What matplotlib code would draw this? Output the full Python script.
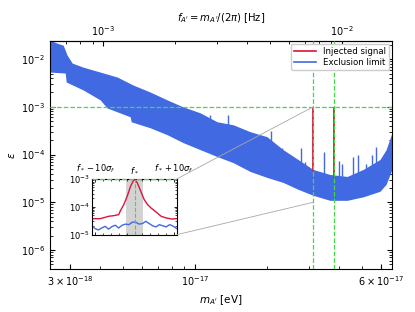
"""
Limite de exclusão do fóton escuro com sinal injetado.
"""
import matplotlib
import matplotlib.pyplot as plt
import numpy as np
from matplotlib.lines import Line2D
from matplotlib.patches import ConnectionPatch
from matplotlib.ticker import MultipleLocator, NullFormatter

matplotlib.use('Agg')

COLORS = {
    'blue': '#4169E1',
    'red': '#DC143C',
    'green': '#45D845',
    'gray': '#A8A8A8',
}

# Conversão eV -> Hz (h em eV*s)
H_EV = 4.135667e-15

# Envelope da curva de exclusão (massa em eV, epsilon)
mass_up = [2.47e-18, 2.646e-18, 2.805e-18, 2.914e-18, 3.06e-18, 3.40e-18, 4.005e-18,
           4.72e-18, 5.50e-18, 6.48e-18, 7.64e-18, 8.91e-18,
           1.05e-17, 1.236e-17, 1.442e-17, 1.70e-17, 2.00e-17, 2.335e-17, 2.70e-17,
           3.12e-17, 3.67e-17, 4.33e-17, 5.05e-17, 5.94e-17, 6.30e-17, 6.67e-17]
eps_up = [2.5e-2, 2.16e-2, 1.96e-2, 1.21e-2, 8.25e-3, 6.8e-3, 5.36e-3,
          4.22e-3, 2.87e-3, 2.05e-3, 1.40e-3, 1.0e-3,
          7.5e-4, 4.87e-4, 4.22e-4, 3.02e-4, 2.37e-4, 1.27e-4, 7.87e-5,
          4.87e-5, 3.83e-5, 3.48e-5, 4.87e-5, 7.87e-5, 1.26e-4, 2.88e-4]

mass_low = [2.47e-18, 2.86e-18, 2.887e-18, 3.40e-18, 4.005e-18, 4.28e-18, 4.72e-18,
            5.35e-18, 5.40e-18, 6.48e-18, 7.64e-18, 8.91e-18, 1.05e-17, 1.236e-17,
            1.442e-17, 1.70e-17, 2.00e-17, 2.335e-17, 2.70e-17, 3.12e-17, 3.67e-17,
            4.33e-17, 5.05e-17, 5.94e-17, 6.30e-17, 6.67e-17]
eps_low = [5.36e-3, 5.11e-3, 3.32e-3, 2.26e-3, 1.40e-3, 9.5e-4, 7.87e-4,
           6.19e-4, 4.87e-4, 3.65e-4, 2.61e-4, 1.78e-4, 1.27e-4, 9.1e-5,
           6.8e-5, 4.43e-5, 3.32e-5, 2.61e-5, 1.87e-5, 1.4e-5, 1.1e-5,
           1.1e-5, 1.3e-5, 1.7e-5, 2.37e-5, 4.87e-5]

# Picos isolados da curva de exclusão
spike_mass = [1.15e-17, 1.37e-17, 1.83e-17, 2.08e-17, 2.22e-17, 2.32e-17, 2.78e-17,
              2.89e-17, 3.45e-17, 4.02e-17, 4.14e-17, 4.60e-17, 4.83e-17, 5.17e-17,
              5.52e-17, 5.73e-17]
spike_eps = [6.8e-4, 6.8e-4, 2.05e-4, 3.16e-4, 1.4e-4, 1.4e-4, 1.4e-4,
             7.1e-5, 1.15e-4, 7.5e-5, 6.5e-5, 9.1e-5, 1.0e-4, 6.2e-5,
             1.0e-4, 1.47e-4]

# Sinais injetados
inj_mass = [3.12e-17, 3.81e-17]
inj_peak = [1.0e-3, 1.0e-3]
inj_base = [4.43e-5, 3.32e-5]
eps_threshold = 1e-3

# Zoom em torno do primeiro sinal (x em unidades de sigma_f)
zoom_x_red = [-11.0, -8.8, -7.5, -6.65, -5.34, -4.04, -3.6, -2.74, -1.87, -1.0,
              -0.3, 0.05, 0.73, 1.6, 2.48, 3.34, 4.22, 5.53, 6.83, 8.13, 9.43, 11.0]
zoom_log_red = [-4.425, -4.425, -4.376, -4.34, -4.317, -4.28, -4.138, -3.92, -3.62,
                -3.26, -3.06, -3.02, -3.14, -3.44, -3.74, -3.92, -4.04, -4.185,
                -4.34, -4.40, -4.436, -4.425]
zoom_x_blue = [-11.0, -10.1, -9.26, -8.4, -7.5, -6.65, -5.78, -4.91, -4.04, -3.17,
               -2.3, -1.44, -0.57, 0.3, 1.17, 2.04, 2.9, 3.77, 4.64, 5.5, 6.37,
               7.24, 8.1, 9.0, 9.85, 11.0]
zoom_log_blue = [-4.66, -4.78, -4.83, -4.76, -4.70, -4.80, -4.71, -4.66, -4.76, -4.66,
                 -4.62, -4.64, -4.55, -4.55, -4.62, -4.60, -4.52, -4.60, -4.68,
                 -4.72, -4.64, -4.68, -4.72, -4.64, -4.69, -4.80]
zoom_band = (-2.3, 2.3)


def m2f(m):
    return m / H_EV


def f2m(f):
    return f * H_EV


plt.rcParams['font.family'] = 'DejaVu Sans'
plt.rcParams['font.size'] = 7
plt.rcParams['xtick.direction'] = 'in'
plt.rcParams['ytick.direction'] = 'in'
plt.rcParams['mathtext.fontset'] = 'dejavusans'

fig = plt.figure(figsize=(4.15, 3.12), dpi=100)
ax = fig.add_axes([0.1205, 0.1378, 0.824, 0.7308])

# Curva de exclusão (banda densa): envelope comum em escala log
grid = np.unique(np.concatenate([mass_up, mass_low]))
lg = np.log10(grid)
upper = 10 ** np.interp(lg, np.log10(mass_up), np.log10(eps_up))
lower = 10 ** np.interp(lg, np.log10(mass_low), np.log10(eps_low))
ax.fill_between(grid, lower, upper, color=COLORS['blue'], lw=0, zorder=2)
log_top = np.interp(np.log10(spike_mass), np.log10(mass_up), np.log10(eps_up))
ax.vlines(spike_mass, 10 ** (log_top - 0.3), spike_eps, color=COLORS['blue'], lw=1.0, zorder=2)

# Sinais injetados
ax.vlines(inj_mass, inj_base, inj_peak, color=COLORS['red'], lw=1.3, zorder=3)

# Linhas de referência
ax.axhline(eps_threshold, color=COLORS['green'], ls='--', lw=0.9, zorder=4)
for m in inj_mass:
    ax.axvline(m, color=COLORS['green'], ls='--', lw=0.9, zorder=4)

ax.set_xscale('log')
ax.set_yscale('log')
ax.set_xlim(2.47e-18, 6.67e-17)
ax.set_ylim(4e-7, 2.4e-2)
ax.set_xticks([3e-18, 1e-17, 6e-17])
ax.set_xticklabels([r'$3\times10^{-18}$', r'$10^{-17}$', r'$6\times10^{-17}$'])
ax.xaxis.set_minor_formatter(NullFormatter())
ax.tick_params(axis='y', which='both', right=True)
ax.tick_params(which='major', length=3.5, width=0.8, labelsize=7)
ax.tick_params(which='minor', length=2, width=0.6)
ax.set_xlabel(r"$m_{A'}$ [eV]", fontsize=7.5, labelpad=4)
ax.set_ylabel(r'$\epsilon$', fontsize=7.5, labelpad=3)

secax = ax.secondary_xaxis('top', functions=(m2f, f2m))
secax.set_xticks([1e-3, 1e-2])
secax.tick_params(which='major', length=3.5, width=0.8, labelsize=7, pad=2.5)
secax.tick_params(which='minor', length=2, width=0.6)
secax.xaxis.set_minor_formatter(NullFormatter())
secax.set_xlabel(r"$f_{A'} = m_{A'}/(2\pi)$ [Hz]", fontsize=7.2, labelpad=2)

handles = [Line2D([], [], color=COLORS['red'], lw=1.2),
           Line2D([], [], color=COLORS['blue'], lw=1.2)]
ax.legend(handles, ['Injected signal', 'Exclusion limit'], loc='upper right',
          fontsize=6.2, handlelength=2.6, borderpad=0.35, labelspacing=0.3,
          borderaxespad=0.3, framealpha=1.0)

# Inset com zoom no primeiro sinal
axins = fig.add_axes([0.2224, 0.2478, 0.2034, 0.1785])
axins.axvspan(*zoom_band, color='#D3D3D3', lw=0, zorder=1)
axins.plot(zoom_x_red, 10 ** np.array(zoom_log_red), color=COLORS['red'], lw=1.0, zorder=2)
axins.plot(zoom_x_blue, 10 ** np.array(zoom_log_blue), color=COLORS['blue'], lw=1.0, zorder=2)
axins.axvline(0, color=COLORS['green'], ls='--', lw=0.8, zorder=3)
axins.axhline(eps_threshold, color=COLORS['green'], ls='--', lw=1.0, zorder=3)
axins.set_yscale('log')
axins.set_xlim(-10.8, 10.8)
axins.set_ylim(1e-5, 1e-3)
axins.set_xticks([-10, 0, 10])
axins.set_xticklabels([r'$f_* - 10\sigma_f$', r'$f_*$', r'$f_* + 10\sigma_f$'])
axins.xaxis.set_minor_locator(MultipleLocator(2))
axins.yaxis.set_minor_formatter(NullFormatter())
axins.tick_params(axis='x', which='both', top=True, bottom=True,
                  labeltop=True, labelbottom=False)
axins.tick_params(axis='y', which='both', left=True, right=True)
axins.tick_params(which='major', length=2.5, width=0.6, labelsize=6, pad=1.5)
axins.tick_params(axis='x', which='major', pad=3)
axins.tick_params(which='minor', length=1.5, width=0.5)

# Linhas de conexão do inset
for ya, yb in [(1, inj_peak[0]), (0, 1e-5)]:
    con = ConnectionPatch(xyA=(1, ya), coordsA=axins.transAxes,
                          xyB=(inj_mass[0], yb), coordsB=ax.transData,
                          color=COLORS['gray'], lw=0.6, zorder=1)
    fig.add_artist(con)

plt.savefig('out.png', dpi=100)
plt.close()
